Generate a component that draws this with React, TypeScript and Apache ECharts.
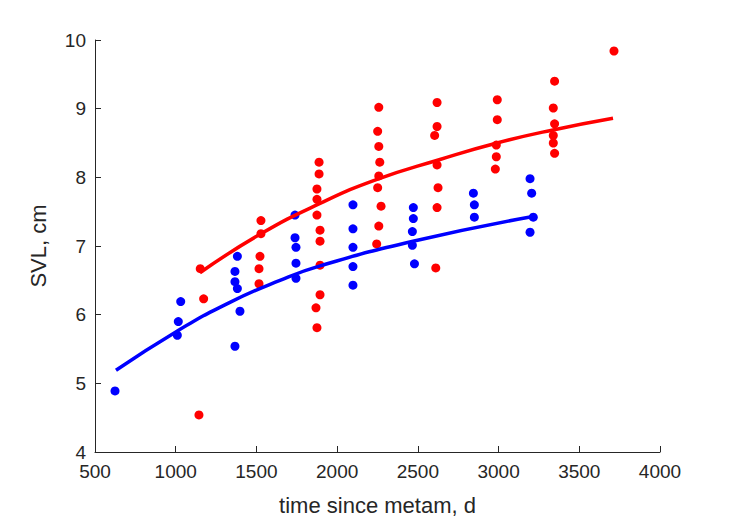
import React, { useEffect, useRef } from "react";
import * as echarts from "echarts";

// Blue group observations: [time since metam (d), SVL (cm)]
const blueX = [624, 1010, 1016, 1031, 1367, 1382, 1367, 1367, 1382, 1398, 1739, 1739, 1745, 1745, 1745, 2098, 2098, 2098, 2098, 2098, 2472, 2472, 2466, 2466, 2479, 2844, 2850, 2850, 3195, 3205, 3215, 3195];
const blueY = [4.89, 5.70, 5.90, 6.19, 5.54, 6.85, 6.63, 6.48, 6.38, 6.05, 7.45, 7.12, 6.98, 6.75, 6.53, 7.60, 7.25, 6.98, 6.70, 6.43, 7.56, 7.40, 7.21, 7.01, 6.74, 7.77, 7.60, 7.42, 7.98, 7.77, 7.42, 7.20];

// Red group observations
const redX = [1144, 1152, 1173, 1528, 1528, 1522, 1516, 1516, 1888, 1888, 1875, 1875, 1875, 1894, 1894, 1894, 1894, 1869, 1875, 2258, 2251, 2258, 2264, 2258, 2251, 2272, 2258, 2245, 2619, 2619, 2604, 2619, 2625, 2619, 2611, 2992, 2992, 2986, 2986, 2980, 3347, 3339, 3347, 3339, 3339, 3347, 3715];
const redY = [4.54, 6.67, 6.23, 7.37, 7.18, 6.85, 6.67, 6.45, 8.22, 8.05, 7.83, 7.68, 7.45, 7.23, 7.07, 6.72, 6.29, 6.10, 5.81, 9.02, 8.67, 8.45, 8.22, 8.02, 7.85, 7.58, 7.29, 7.03, 9.09, 8.74, 8.61, 8.18, 7.85, 7.56, 6.68, 9.13, 8.84, 8.47, 8.30, 8.12, 9.40, 9.01, 8.78, 8.61, 8.50, 8.35, 9.84];

// Fitted curves
const blueFitX = [630, 1008, 1336, 1646, 1894, 2470, 3213];
const blueFitY = [5.19, 5.76, 6.18, 6.50, 6.71, 7.07, 7.43];
const redFitX = [1150, 1522, 1894, 2247, 2637, 2990, 3337, 3709];
const redFitY = [6.61, 7.17, 7.62, 7.97, 8.26, 8.50, 8.69, 8.86];

const xTicks = [500, 1000, 1500, 2000, 2500, 3000, 3500, 4000];
const yTicks = [4, 5, 6, 7, 8, 9, 10];

const zip = (xs: number[], ys: number[]) => xs.map((x, i) => [x, ys[i]]);

export default function App() {
  const ref = useRef<HTMLDivElement>(null);
  useEffect(() => {
    if (!ref.current) return;
    const chart = echarts.init(ref.current, undefined, { renderer: "svg" });
    const axisColor = "#262626";
    const font = "Liberation Sans, Arial, Helvetica, sans-serif";
    chart.setOption({
      animation: false,
      backgroundColor: "#ffffff",
      grid: { left: 95, right: 69, top: 40, bottom: 68 },
      xAxis: {
        type: "value",
        min: xTicks[0],
        max: xTicks[xTicks.length - 1],
        interval: 500,
        name: "time since metam, d",
        nameLocation: "middle",
        nameGap: 42,
        nameTextStyle: { color: axisColor, fontSize: 22, fontFamily: font },
        axisLine: { show: true, lineStyle: { color: axisColor, width: 1 } },
        axisTick: { show: true, inside: true, length: 6, lineStyle: { color: axisColor } },
        axisLabel: {
          color: axisColor,
          fontSize: 19,
          lineHeight: 18,
          fontFamily: font,
          margin: 10,
          formatter: (v: number) => String(v),
        },
        splitLine: { show: false },
      },
      yAxis: {
        type: "value",
        min: yTicks[0],
        max: yTicks[yTicks.length - 1],
        interval: 1,
        name: "SVL, cm",
        nameLocation: "middle",
        nameGap: 46,
        nameTextStyle: { color: axisColor, fontSize: 22, fontFamily: font },
        axisLine: { show: true, lineStyle: { color: axisColor, width: 1 } },
        axisTick: { show: true, inside: true, length: 6, lineStyle: { color: axisColor } },
        axisLabel: {
          color: axisColor,
          fontSize: 19,
          lineHeight: 17,
          fontFamily: font,
          margin: 9,
          formatter: (v: number) => String(v),
        },
        splitLine: { show: false },
      },
      series: [
        {
          type: "scatter",
          data: zip(blueX, blueY),
          symbol: "circle",
          symbolSize: 9,
          itemStyle: { color: "#0000ff", opacity: 1 },
          z: 2,
        },
        {
          type: "scatter",
          data: zip(redX, redY),
          symbol: "circle",
          symbolSize: 9,
          itemStyle: { color: "#ff0000", opacity: 1 },
          z: 2,
        },
        {
          type: "line",
          data: zip(blueFitX, blueFitY),
          smooth: 0.5,
          showSymbol: false,
          symbol: "none",
          lineStyle: { color: "#0000ff", width: 3.5 },
          z: 3,
        },
        {
          type: "line",
          data: zip(redFitX, redFitY),
          smooth: 0.5,
          showSymbol: false,
          symbol: "none",
          lineStyle: { color: "#ff0000", width: 3.5 },
          z: 3,
        },
      ],
    });
    return () => chart.dispose();
  }, []);
  return (
    <div
      ref={ref}
      style={{ position: "fixed", left: 0, top: 0, width: 729, height: 521, background: "#fff" }}
    />
  );
}
